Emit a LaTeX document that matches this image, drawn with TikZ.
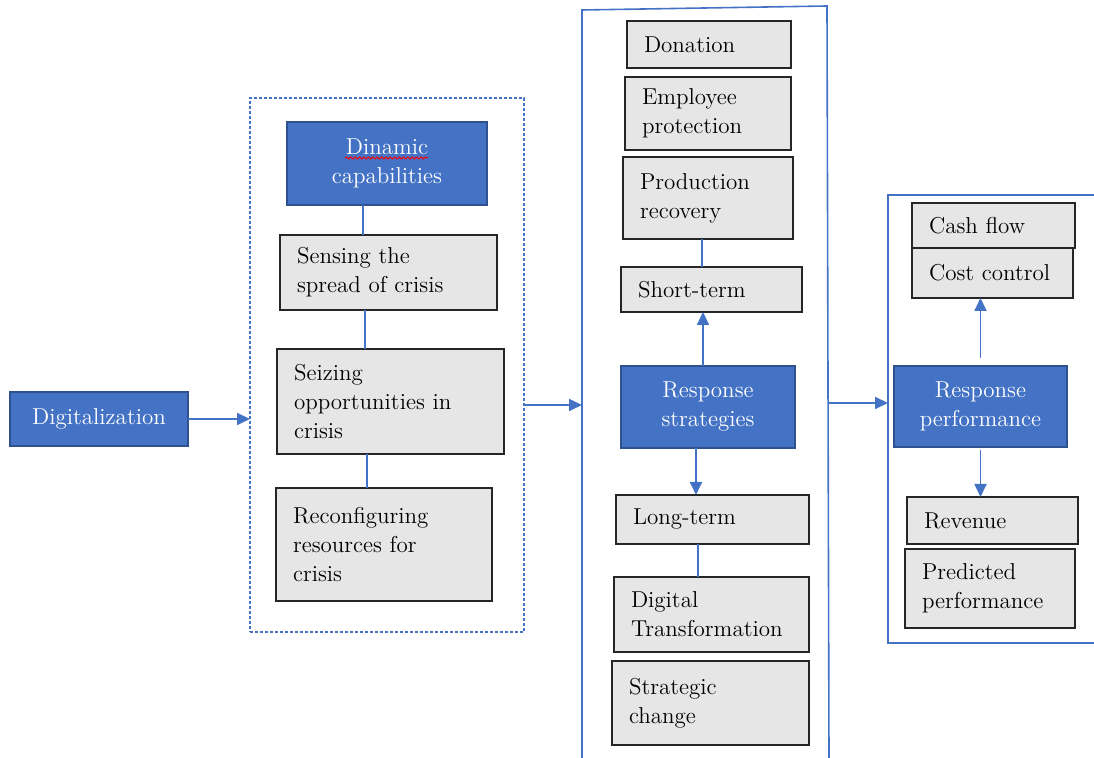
\documentclass[tikz,border=0pt]{standalone}
\usepackage{fontspec}
\usetikzlibrary{arrows.meta, positioning, decorations.pathmorphing}
\definecolor{boxblue}{HTML}{4472C4}
\definecolor{boxedge}{HTML}{2F528F}
\definecolor{boxgrey}{HTML}{E7E6E6}
\definecolor{lineblue}{HTML}{4472C4}

\begin{document}
\begin{tikzpicture}[x=0.5pt, y=-0.5pt,
			every node/.style={font=\fontsize{11.5}{14.5}\selectfont, outer sep=0pt},
			bluebox/.style={draw=boxedge, fill=boxblue, text=white, align=center, line width=0.6pt},
			greybox/.style={draw=black!85, fill=boxgrey, align=left, inner xsep=8.5pt, line width=0.9pt},
			link/.style={draw=lineblue, line width=0.9pt},
			arr/.style={link, -{Triangle[length=6.5pt, width=6pt]}},
			frame/.style={draw=lineblue, line width=0.8pt}]
			
			\useasboundingbox (0,0) rectangle (1094,758);
			
			% Ingresso
			\node[bluebox, minimum width=89pt, minimum height=27pt] (dig) at (99,419) {Digitalization};
			
			% Capacita' dinamiche (riquadro tratteggiato)
			\node[draw=lineblue, dash pattern=on 1.5pt off 1pt, line width=0.9pt,
				minimum width=137pt, minimum height=267pt] (capframe) at (387,365) {};
			\node[bluebox, minimum width=100pt, minimum height=41.5pt] (dyn) at (387,163.5) {Dinamic\\capabilities};
			\draw[red, line width=0.5pt, decorate, decoration={snake, amplitude=0.5pt, segment length=2.2pt}] (345,158) -- (428,158);
			\node[greybox, text width=91.5pt, minimum height=37.5pt] (sens) at (388.5,272.5) {Sensing the\\spread of crisis};
			\node[greybox, text width=96.5pt, minimum height=52.5pt] (seiz) at (390.5,401.5) {Seizing\\opportunities in\\crisis};
			\node[greybox, text width=91pt, minimum height=56.5pt] (reco) at (384,544.5) {Reconfiguring\\resources for\\crisis};
			
			% Strategie di risposta
			\node[greybox, text width=65pt, minimum height=23.5pt] (don) at (709,44.5) {Donation};
			\node[greybox, text width=66pt, minimum height=36.5pt] (emp) at (708,113.5) {Employee\\protection};
			\node[greybox, text width=68pt, minimum height=41pt] (prod) at (708,198) {Production\\recovery};
			\node[greybox, text width=73.5pt, minimum height=22.5pt] (short) at (711.5,289.5) {Short-term};
			\node[bluebox, minimum width=87pt, minimum height=41pt] (rs) at (708,407) {Response\\strategies};
			\node[greybox, text width=79.5pt, minimum height=24.5pt] (long) at (712.5,519.5) {Long-term};
			\node[greybox, text width=80.5pt, minimum height=37.5pt] (digt) at (711.5,614.5) {Digital\\Transformation};
			\node[greybox, text width=81.5pt, minimum height=42pt] (strat) at (710.5,703) {Strategic\\change};
			
			% Performance di risposta
			\node[greybox, text width=64.5pt, minimum height=22.5pt] (cash) at (993.5,225.5) {Cash flow};
			\node[greybox, text width=63.5pt, minimum height=25pt] (cost) at (992.5,273) {Cost control};
			\node[bluebox, minimum width=86.5pt, minimum height=40.5pt] (rp) at (980.5,406.5) {Response\\performance};
			\node[greybox, text width=68.5pt, minimum height=23.5pt] (rev) at (992.5,520.5) {Revenue};
			\node[greybox, text width=68pt, minimum height=39.5pt] (pred) at (990,588.5) {Predicted\\performance};
			
			% Cornici aperte
			\draw[frame] (582,758) -- (582,10) -- (827,6) -- (829,758);
			\draw[frame] (1094,195) -- (888,195) -- (888,643) -- (1094,643);
			\coordinate (midL) at (582,405);
			\coordinate (midR) at (829,403);
			\coordinate (rightL) at (888,403);
			
			% --- Collegamenti ---
			\draw[link] ([xshift=-12pt]dyn.south) -- ([xshift=-12pt]dyn.south |- sens.north);
			\draw[link] ([xshift=-11.75pt]sens.south) -- ([xshift=-11.75pt]sens.south |- seiz.north);
			\draw[link] ([xshift=-11.75pt]seiz.south) -- ([xshift=-11.75pt]seiz.south |- reco.north);
			\draw[link] ([xshift=-3pt]prod.south) -- ([xshift=-3pt]prod.south |- short.north);
			\draw[link] ([xshift=-7.25pt]long.south) -- ([xshift=-7.25pt]long.south |- digt.north);
			
			% --- Frecce ---
			\draw[arr] (dig.east) -- (dig.east -| capframe.west);
			\draw[arr] (capframe.east |- midL) -- (midL);
			\draw[arr] (midR) -- (rightL);
			\draw[arr] ([xshift=-2.5pt]rs.north) -- ([xshift=-2.5pt]rs.north |- short.south);
			\draw[arr] ([xshift=-6pt]rs.south) -- ([xshift=-6pt]rs.south |- long.north);
			\draw[arr, shorten <=4pt] (rp.north) -- (rp.north |- cost.south);
			\draw[arr, shorten <=1.5pt] (rp.south) -- (rp.south |- rev.north);
			
		\end{tikzpicture}
\end{document}
